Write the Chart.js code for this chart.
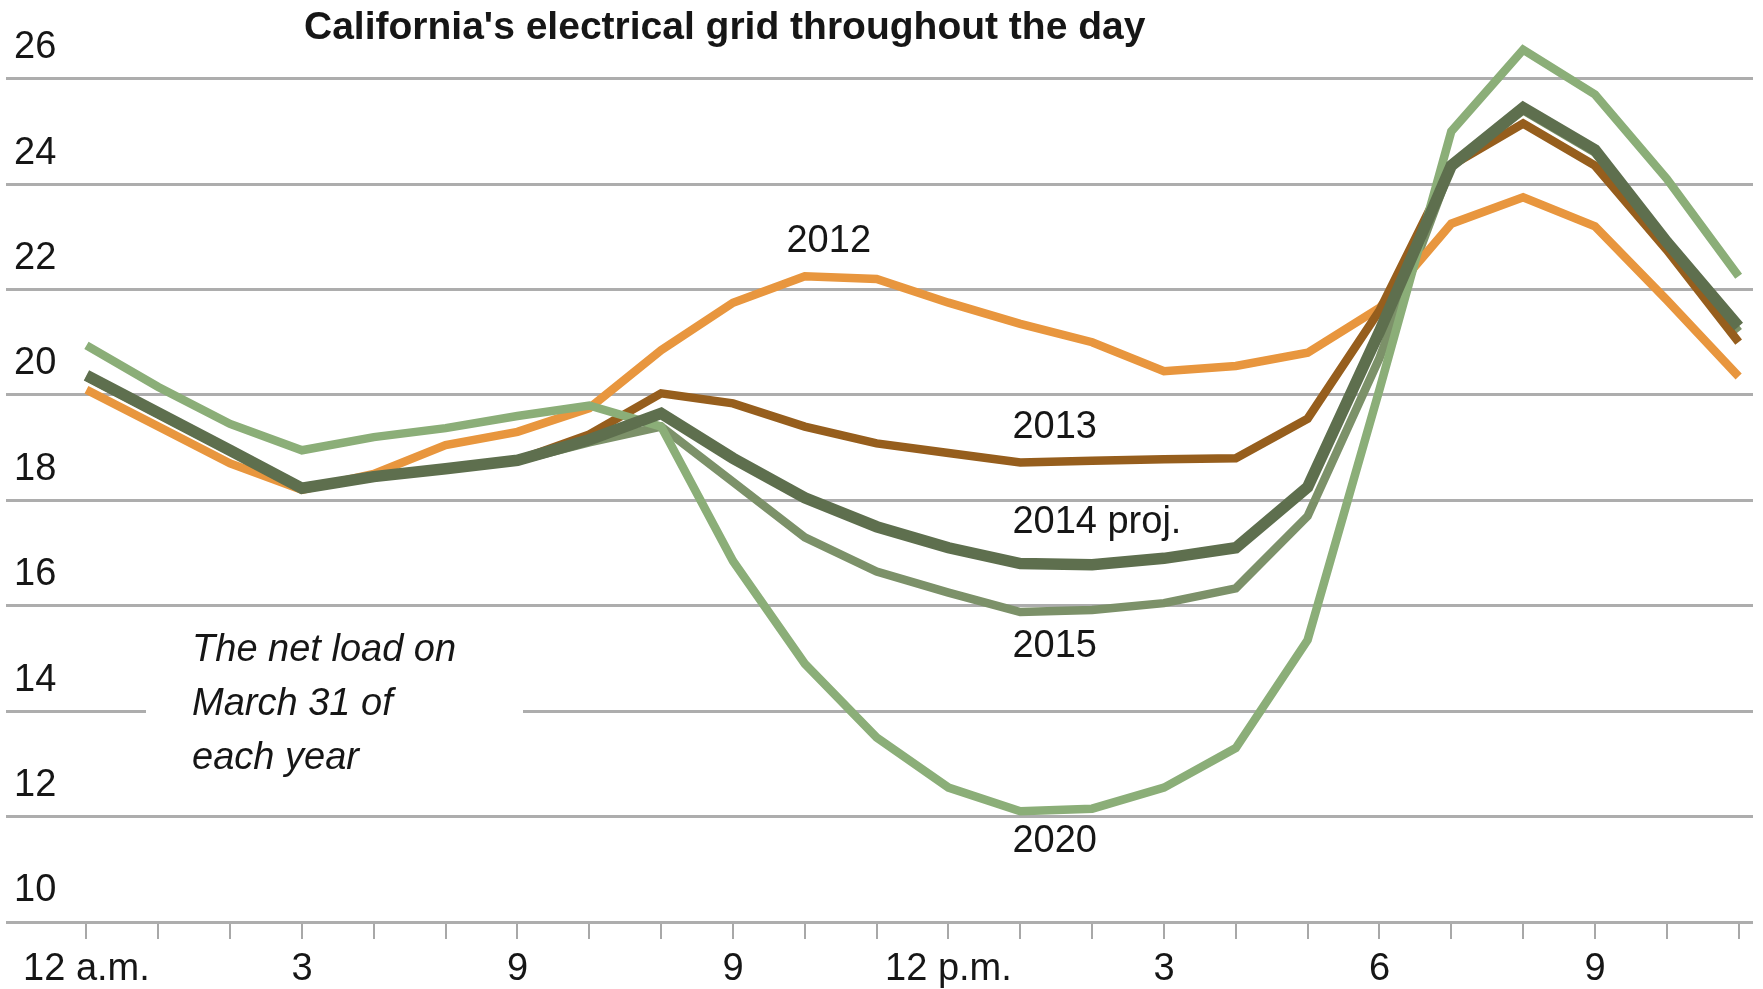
<!DOCTYPE html>
<html>
<head>
<meta charset="utf-8">
<title>California's electrical grid throughout the day</title>
<script src="https://cdn.jsdelivr.net/npm/chart.js@4.4.1/dist/chart.umd.min.js"></script>
<style>
  html, body { margin: 0; padding: 0; background: #fff; }
  canvas { display: block; }
</style>
</head>
<body>
<canvas id="duckChart" width="1763" height="989"></canvas>
<script>
// --- Data (net load in GW, hourly) ---
const hours = [0, 1, 2, 3, 4, 5, 6, 7, 8, 9, 10, 11, 12, 13, 14, 15, 16, 17, 18, 19, 20, 21, 22, 23];
const tickHours = [0, 3, 6, 9, 12, 15, 18, 21];
const tickLabels = ['12 a.m.', '3', '9', '9', '12 p.m.', '3', '6', '9'];
const yTicks = [10, 12, 14, 16, 18, 20, 22, 24, 26];

const load2012 = [20.1, 19.4, 18.7, 18.2, 18.5, 19.05, 19.3, 19.75, 20.85, 21.75, 22.25, 22.2, 21.75, 21.35, 21.0, 20.45, 20.55, 20.8, 21.65, 23.25, 23.75, 23.2, 21.8, 20.35];
const load2013 = [20.35, 19.64, 18.93, 18.22, 18.44, 18.6, 18.76, 19.25, 20.03, 19.84, 19.4, 19.08, 18.9, 18.72, 18.75, 18.78, 18.8, 19.55, 21.6, 24.35, 25.15, 24.35, 22.75, 21.0];
const load2014 = [20.37, 19.66, 18.95, 18.23, 18.45, 18.6, 18.76, 19.15, 19.65, 18.8, 18.05, 17.5, 17.1, 16.8, 16.78, 16.9, 17.1, 18.25, 21.2, 24.35, 25.45, 24.65, 22.9, 21.3];
const load2015 = [20.35, 19.65, 18.95, 18.25, 18.45, 18.6, 18.75, 19.1, 19.4, 18.35, 17.3, 16.65, 16.25, 15.88, 15.92, 16.05, 16.33, 17.7, 20.7, 24.35, 25.4, 24.6, 22.9, 21.2];
const load2020 = [20.94, 20.15, 19.45, 18.95, 19.2, 19.37, 19.6, 19.8, 19.4, 16.85, 14.9, 13.5, 12.55, 12.1, 12.15, 12.55, 13.3, 15.35, 20.1, 25.0, 26.55, 25.7, 24.1, 22.25];

const TEXT = '#161616';
const GRID = '#adadad';
const FONT = '"Liberation Sans", Arial, sans-serif';

function pts(values) {
    return hours.map(function (h, i) { return { x: h, y: values[i] }; });
}

// --- Series labels and note, anchored in data units (hour, GW) ---
const seriesLabels = [
    { text: '2012', x: 9.745, y: 22.91 },
    { text: '2013', x: 12.89, y: 19.39 },
    { text: '2014 proj.', x: 12.89, y: 17.57 },
    { text: '2015', x: 12.89, y: 15.23 },
    { text: '2020', x: 12.89, y: 11.52 }
];
const noteLines = ['The net load on', 'March 31 of', 'each year'];
const noteAnchor = { x: 1.47, y: [15.16, 14.13, 13.11] };

const decorations = {
    id: 'decorations',
    beforeDatasetsDraw: function (chart) {
        // break in the 14 gridline behind the note
        const ctx = chart.ctx;
        const y14 = chart.scales.y.getPixelForValue(14);
        ctx.save();
        ctx.fillStyle = '#fff';
        ctx.fillRect(146, y14 - 4, 377, 8);
        ctx.restore();
    },
    afterDatasetsDraw: function (chart) {
        const ctx = chart.ctx;
        const xs = chart.scales.x, ys = chart.scales.y;
        ctx.save();
        ctx.fillStyle = TEXT;
        ctx.textBaseline = 'middle';
        ctx.textAlign = 'left';
        ctx.font = '38px ' + FONT;
        seriesLabels.forEach(function (l) {
            ctx.fillText(l.text, xs.getPixelForValue(l.x), ys.getPixelForValue(l.y));
        });
        ctx.font = 'italic 38px ' + FONT;
        noteLines.forEach(function (t, i) {
            ctx.fillText(t, xs.getPixelForValue(noteAnchor.x), ys.getPixelForValue(noteAnchor.y[i]));
        });
        // title
        ctx.font = 'bold 39px ' + FONT;
        ctx.textBaseline = 'alphabetic';
        ctx.fillText("California's electrical grid throughout the day", 304, 39);
        ctx.restore();
    }
};

function lineSet(label, data, color, width, order) {
    return {
        label: label,
        data: pts(data),
        borderColor: color,
        backgroundColor: color,
        borderWidth: width,
        pointRadius: 0,
        tension: 0,
        fill: false,
        clip: false,
        order: order
    };
}

new Chart(document.getElementById('duckChart').getContext('2d'), {
    type: 'line',
    data: {
        datasets: [
            lineSet('2012', load2012, '#E8963E', 8.5, 3),
            lineSet('2013', load2013, '#965E1D', 8.5, 2),
            lineSet('2014 proj.', load2014, '#5E6F4E', 11.5, 0),
            lineSet('2015', load2015, '#7C9169', 8.5, 4),
            lineSet('2020', load2020, '#8BAE78', 8.5, 1)
        ]
    },
    options: {
        responsive: false,
        animation: false,
        layout: { padding: { top: 78.7, left: 6, right: 10, bottom: 0 } },
        plugins: {
            legend: { display: false },
            tooltip: { enabled: false },
            title: { display: false }
        },
        scales: {
            x: {
                type: 'linear',
                min: -1.12,
                max: 23.2,
                afterBuildTicks: function (scale) {
                    scale.ticks = hours.map(function (h) { return { value: h }; });
                },
                afterFit: function (scale) { scale.height = 67; },
                grid: {
                    drawOnChartArea: false,
                    drawTicks: true,
                    tickLength: 17,
                    color: '#a8a8a8',
                    lineWidth: 2
                },
                border: { display: false },
                ticks: {
                    autoSkip: false,
                    maxRotation: 0,
                    padding: 8,
                    color: TEXT,
                    font: { family: FONT, size: 38 },
                    callback: function (value) {
                        const i = tickHours.indexOf(value);
                        return i >= 0 ? tickLabels[i] : '';
                    }
                }
            },
            y: {
                min: 10,
                max: 26,
                afterBuildTicks: function (scale) {
                    scale.ticks = yTicks.map(function (v) { return { value: v }; });
                },
                afterFit: function (scale) { scale.width = 0; },
                grid: {
                    color: GRID,
                    lineWidth: 3,
                    drawTicks: false
                },
                border: { display: false },
                ticks: {
                    mirror: true,
                    padding: 8,
                    labelOffset: -31,
                    color: TEXT,
                    font: { family: FONT, size: 38 }
                }
            }
        }
    },
    plugins: [decorations]
});
</script>
</body>
</html>
